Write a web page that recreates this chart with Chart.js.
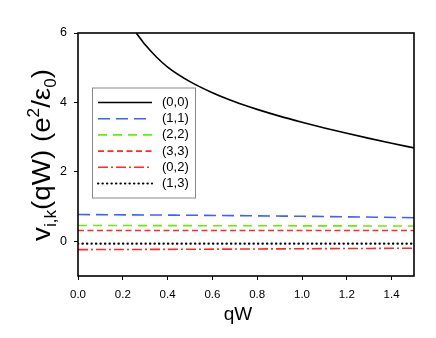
<!DOCTYPE html>
<html>
<head>
<meta charset="utf-8">
<script src="https://cdn.jsdelivr.net/npm/chart.js@4/dist/chart.umd.min.js"></script>
<style>
html,body{margin:0;padding:0;background:#fff;}
#wrap{width:436px;height:338px;position:relative;}
</style>
</head>
<body>
<div id="wrap"><canvas id="c" width="436" height="338"></canvas></div>
<script>
// ---- data ----
const curveQ = [0.26, 0.30, 0.35, 0.40, 0.50, 0.60, 0.70, 0.80, 0.90, 1.00, 1.10, 1.20, 1.30, 1.40, 1.50];
const v00    = [6.00, 5.66, 5.31, 5.02, 4.60, 4.28, 4.02, 3.80, 3.605, 3.43, 3.265, 3.11, 2.965, 2.825, 2.69];
const flatQ  = [0.0, 0.5, 1.0, 1.5];
const v11    = [0.77, 0.75, 0.72, 0.68];
const v22    = [0.455, 0.45, 0.445, 0.44];
const v33    = [0.31, 0.31, 0.31, 0.31];
const v02    = [-0.24, -0.23, -0.215, -0.20];
const v13    = [-0.07, -0.07, -0.07, -0.07];
const seriesLabels = ['(0,0)', '(1,1)', '(2,2)', '(3,3)', '(0,2)', '(1,3)'];
const xTickValues = [0.0, 0.2, 0.4, 0.6, 0.8, 1.0, 1.2, 1.4];
const yTickValues = [0, 2, 4, 6];
const xTitle = 'qW';

const pts = (xs, ys) => xs.map((x, i) => ({x: x, y: ys[i]}));

const FONT = "'Liberation Sans', Arial, Helvetica, sans-serif";

const datasets = [
  {label: seriesLabels[0], data: pts(curveQ, v00), borderColor: '#000000', borderWidth: 1.6, borderDash: [], borderCapStyle: 'butt'},
  {label: seriesLabels[1], data: pts(flatQ, v11), borderColor: '#3f5fff', borderWidth: 1.6, borderDash: [12, 6], borderCapStyle: 'butt'},
  {label: seriesLabels[2], data: pts(flatQ, v22), borderColor: '#66ee00', borderWidth: 1.6, borderDash: [9, 6], borderCapStyle: 'butt'},
  {label: seriesLabels[3], data: pts(flatQ, v33), borderColor: '#ff2a2a', borderWidth: 1.6, borderDash: [6, 3.5], borderCapStyle: 'butt'},
  {label: seriesLabels[4], data: pts(flatQ, v02), borderColor: '#ff2a2a', borderWidth: 1.6, borderDash: [10, 3, 2, 3], borderCapStyle: 'butt'},
  {label: seriesLabels[5], data: pts(flatQ, v13), borderColor: '#000000', borderWidth: 2.2, borderDash: [0.3, 4.2], borderCapStyle: 'round'}
].map(d => Object.assign(d, {pointRadius: 0, fill: false, cubicInterpolationMode: 'monotone'}));

const framePlugin = {
  id: 'frameLegendTitles',
  afterDatasetsDraw(chart) {
    const ctx = chart.ctx, a = chart.chartArea;
    ctx.save();
    // frame
    ctx.strokeStyle = '#000'; ctx.lineWidth = 1.6; ctx.setLineDash([]);
    ctx.strokeRect(a.left, a.top, a.right - a.left, a.bottom - a.top);
    // legend box
    const bx = 92, by = 87.5, bw = 103, bh = 110;
    ctx.fillStyle = '#fff'; ctx.fillRect(bx, by, bw, bh);
    ctx.strokeStyle = '#888'; ctx.lineWidth = 1; ctx.strokeRect(bx + 0.5, by + 0.5, bw, bh);
    chart.data.datasets.forEach((ds, i) => {
      const y = 102.5 + i * 16.2;
      ctx.beginPath();
      ctx.strokeStyle = ds.borderColor; ctx.lineWidth = ds.borderWidth;
      ctx.lineCap = ds.borderCapStyle || 'butt';
      ctx.setLineDash(ds.borderDash || []);
      ctx.moveTo(98, y); ctx.lineTo(152, y); ctx.stroke();
      ctx.setLineDash([]); ctx.lineCap = 'butt';
      ctx.fillStyle = '#000'; ctx.font = '13px ' + FONT;
      ctx.textAlign = 'left'; ctx.textBaseline = 'middle';
      ctx.fillText(ds.label, 162, y);
    });
    ctx.restore();
  },
  afterDraw(chart) {
    const ctx = chart.ctx;
    ctx.save();
    ctx.fillStyle = '#000';
    // x title
    ctx.font = '19px ' + FONT; ctx.textAlign = 'center'; ctx.textBaseline = 'alphabetic';
    ctx.fillText(xTitle, 238, 320);
    // y title with sub/superscripts, rotated
    const big = 26, small = 16;
    const segs = [
      {t: 'v', f: big, dy: 0},
      {t: 'i,k', f: small, dy: 6},
      {t: '(qW) (e', f: big, dy: 0},
      {t: '2', f: small, dy: -11},
      {t: '/ε', f: big, dy: 0},
      {t: '0', f: small, dy: 6},
      {t: ')', f: big, dy: 0}
    ];
    let total = 0;
    segs.forEach(s => { ctx.font = s.f + 'px ' + FONT; s.w = ctx.measureText(s.t).width; total += s.w; });
    const target = 172;
    const k = target / total;
    ctx.translate(50, 155);
    ctx.rotate(-Math.PI / 2);
    ctx.scale(k, 1);
    ctx.textAlign = 'left'; ctx.textBaseline = 'alphabetic';
    let x = -total / 2;
    segs.forEach(s => { ctx.font = s.f + 'px ' + FONT; ctx.fillText(s.t, x, s.dy); x += s.w; });
    ctx.restore();
  }
};

new Chart(document.getElementById('c'), {
  type: 'line',
  data: {datasets: datasets},
  options: {
    responsive: false,
    animation: false,
    events: [],
    layout: {padding: {left: 0, top: 33, right: 22, bottom: 0}},
    plugins: {legend: {display: false}, tooltip: {enabled: false}, title: {display: false}},
    scales: {
      x: {
        type: 'linear', min: 0, max: 1.5,
        afterBuildTicks: s => { s.ticks = xTickValues.map(v => ({value: v})); },
        afterFit: s => { s.height = 62; },
        border: {display: false},
        grid: {display: true, drawOnChartArea: false, drawTicks: true, tickLength: 4, color: '#000', lineWidth: 1},
        ticks: {color: '#000', font: {family: FONT, size: 11.5}, padding: 8, maxRotation: 0,
                callback: v => Number(v).toFixed(1)}
      },
      y: {
        type: 'linear', min: -1, max: 6,
        afterBuildTicks: s => { s.ticks = yTickValues.map(v => ({value: v})); },
        afterFit: s => { s.width = 78; },
        border: {display: false},
        grid: {display: true, drawOnChartArea: false, drawTicks: true, tickLength: 4, color: '#000', lineWidth: 1},
        ticks: {color: '#000', font: {family: FONT, size: 12.5}, padding: 7,
                callback: v => String(v)}
      }
    }
  },
  plugins: [framePlugin]
});
</script>
</body>
</html>
